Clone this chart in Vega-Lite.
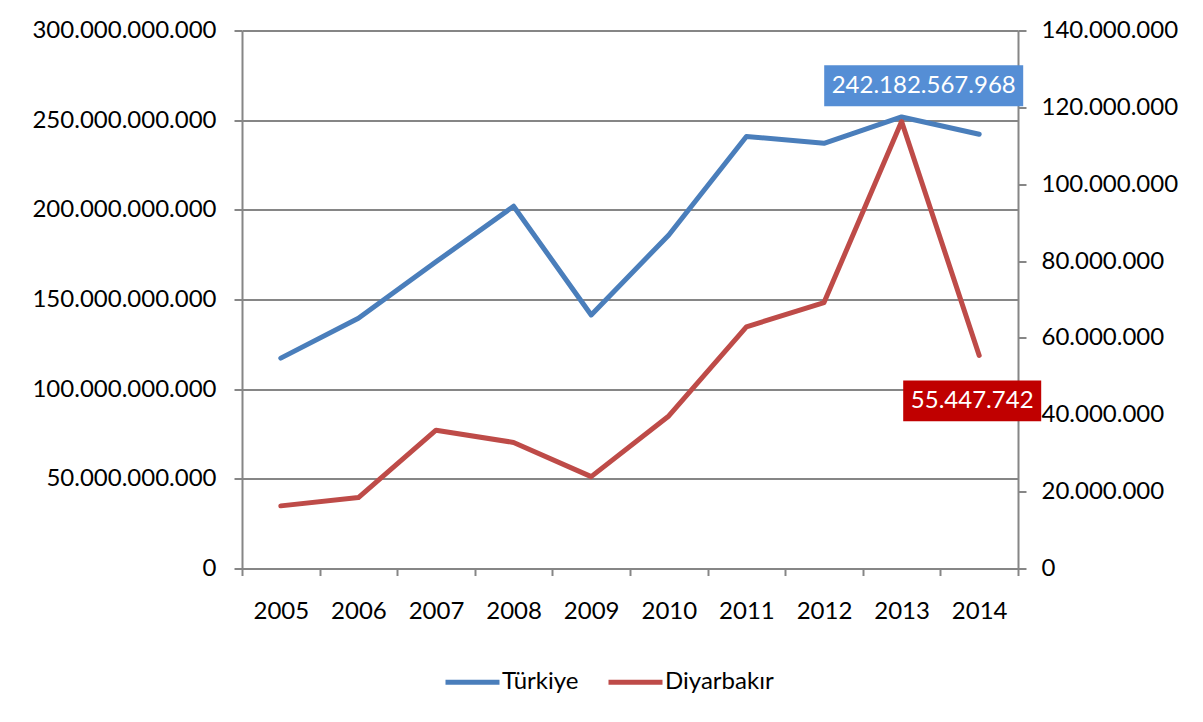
{
  "$schema": "https://vega.github.io/schema/vega-lite/v6.json",
  "width": 776,
  "height": 538,
  "autosize": "none",
  "padding": {"left": 242, "top": 30.5, "right": 185, "bottom": 153.5},
  "background": "white",
  "config": {
    "locale": {"number": {"decimal": ",", "thousands": ".", "grouping": [3], "currency": ["", ""]}},
    "font": "Lato",
    "view": {"stroke": null},
    "axis": {
      "labelFont": "Lato",
      "labelFontSize": 24,
      "labelColor": "#000000",
      "labelLimit": 0,
      "domainColor": "#868686",
      "tickColor": "#868686",
      "gridColor": "#868686",
      "domainWidth": 2,
      "tickWidth": 2,
      "gridWidth": 2,
      "title": null
    },
    "legend": {
      "labelFont": "Lato",
      "labelFontSize": 24,
      "labelColor": "#000000",
      "labelLimit": 0
    }
  },
  "data": {
    "values": [
      {"year": 2005, "series": "Türkiye", "value": 117300000000},
      {"year": 2006, "series": "Türkiye", "value": 139500000000},
      {"year": 2007, "series": "Türkiye", "value": 171000000000},
      {"year": 2008, "series": "Türkiye", "value": 202000000000},
      {"year": 2009, "series": "Türkiye", "value": 141400000000},
      {"year": 2010, "series": "Türkiye", "value": 186000000000},
      {"year": 2011, "series": "Türkiye", "value": 240900000000},
      {"year": 2012, "series": "Türkiye", "value": 237100000000},
      {"year": 2013, "series": "Türkiye", "value": 251800000000},
      {"year": 2014, "series": "Türkiye", "value": 242182567968},
      {"year": 2005, "series": "Diyarbakır", "value": 16300000},
      {"year": 2006, "series": "Diyarbakır", "value": 18450000},
      {"year": 2007, "series": "Diyarbakır", "value": 36000000},
      {"year": 2008, "series": "Diyarbakır", "value": 32800000},
      {"year": 2009, "series": "Diyarbakır", "value": 23900000},
      {"year": 2010, "series": "Diyarbakır", "value": 39700000},
      {"year": 2011, "series": "Diyarbakır", "value": 62900000},
      {"year": 2012, "series": "Diyarbakır", "value": 69200000},
      {"year": 2013, "series": "Diyarbakır", "value": 116300000},
      {"year": 2014, "series": "Diyarbakır", "value": 55447742}
    ]
  },
  "encoding": {
    "x": {
      "field": "year",
      "type": "ordinal",
      "scale": {"paddingInner": 0, "paddingOuter": 0},
      "axis": {
        "tickBand": "extent",
        "labelAngle": 0,
        "tickSize": 7,
        "labelPadding": 24,
        "grid": false,
        "title": null
      }
    }
  },
  "layer": [
    {
      "transform": [{"filter": "datum.series === 'Türkiye'"}],
      "encoding": {
        "y": {
          "field": "value",
          "type": "quantitative",
          "scale": {"domain": [0, 300000000000], "nice": false, "zero": true},
          "axis": {
            "orient": "left",
            "values": [0, 50000000000, 100000000000, 150000000000, 200000000000, 250000000000, 300000000000],
            "format": ",d",
            "grid": true,
            "tickSize": 8,
            "labelPadding": 18,
            "title": null
          }
        }
      },
      "layer": [
        {
          "mark": {"type": "line", "strokeWidth": 5, "strokeCap": "round", "strokeJoin": "round"},
          "encoding": {
            "color": {
              "field": "series",
              "type": "nominal",
              "scale": {"domain": ["Türkiye", "Diyarbakır"], "range": ["#4A7EBB", "#BE4B48"]},
              "legend": {
                "title": null,
                "orient": "none",
                "legendX": 201,
                "legendY": 622,
                "direction": "horizontal",
                "symbolType": "stroke",
                "symbolSize": 2916,
                "symbolStrokeWidth": 5,
                "labelOffset": 0,
                "columnPadding": 19,
                "labelFontSize": 24
              }
            }
          }
        },
        {
          "transform": [{"filter": "datum.year === 2014"}],
          "mark": {
            "type": "point",
            "shape": "M-1,-0.206H1V0.206H-1Z",
            "size": 39601,
            "filled": true,
            "color": "#558ED5",
            "opacity": 1,
            "strokeWidth": 0,
            "xOffset": -55.5,
            "yOffset": -48.5
          }
        },
        {
          "transform": [{"filter": "datum.year === 2014"}],
          "mark": {
            "type": "text",
            "color": "#FFFFFF",
            "fontSize": 24,
            "font": "Lato",
            "dx": -55.5,
            "dy": -48.5,
            "align": "center",
            "baseline": "middle"
          },
          "encoding": {"text": {"field": "value", "type": "quantitative", "format": ",d"}}
        }
      ]
    },
    {
      "transform": [{"filter": "datum.series === 'Diyarbakır'"}],
      "encoding": {
        "y": {
          "field": "value",
          "type": "quantitative",
          "scale": {"domain": [0, 140000000], "nice": false, "zero": true},
          "axis": {
            "orient": "right",
            "values": [0, 20000000, 40000000, 60000000, 80000000, 100000000, 120000000, 140000000],
            "format": ",d",
            "grid": false,
            "tickSize": 8,
            "labelPadding": 15,
            "title": null
          }
        }
      },
      "layer": [
        {
          "mark": {"type": "line", "strokeWidth": 5, "strokeCap": "round", "strokeJoin": "round"},
          "encoding": {
            "color": {"field": "series", "type": "nominal"}
          }
        },
        {
          "transform": [{"filter": "datum.year === 2014"}],
          "mark": {
            "type": "point",
            "shape": "M-1,-0.2955H1V0.2955H-1Z",
            "size": 19044,
            "filled": true,
            "color": "#C00000",
            "opacity": 1,
            "strokeWidth": 0,
            "xOffset": -7,
            "yOffset": 45.5
          }
        },
        {
          "transform": [{"filter": "datum.year === 2014"}],
          "mark": {
            "type": "text",
            "color": "#FFFFFF",
            "fontSize": 24,
            "font": "Lato",
            "dx": -7,
            "dy": 45.5,
            "align": "center",
            "baseline": "middle"
          },
          "encoding": {"text": {"field": "value", "type": "quantitative", "format": ",d"}}
        }
      ]
    }
  ],
  "resolve": {"scale": {"y": "independent"}}
}
